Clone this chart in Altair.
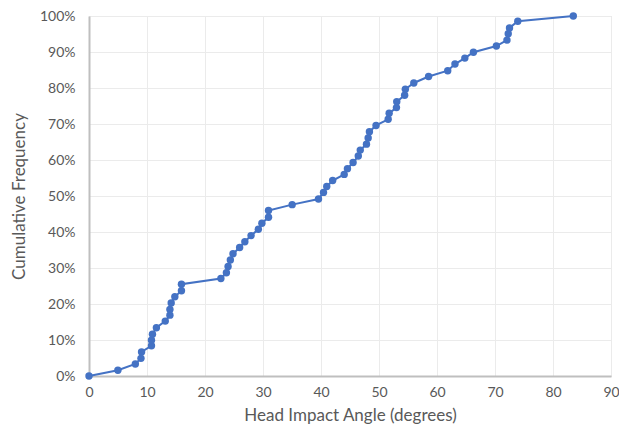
import altair as alt
import pandas as pd

angle = [0, 4.98, 7.99, 8.96, 9.06, 10.77, 10.77, 10.94, 11.62, 13.15,
         13.95, 13.95, 14.17, 14.8, 15.94, 15.94, 22.74, 23.69, 23.98, 24.37,
         24.83, 25.97, 26.87, 27.94, 29.2, 29.81, 30.95, 30.95, 35.03, 39.57,
         40.43, 40.99, 42.01, 44.0, 44.56, 45.53, 46.43, 46.77, 47.84, 48.13,
         48.35, 49.49, 51.58, 51.75, 53.01, 53.06, 54.42, 54.54, 56.0, 58.55,
         61.85, 63.1, 64.8, 66.28, 70.24, 72.06, 72.28, 72.5, 73.93, 83.5]
cum_pct = [0.0, 1.6, 3.35, 4.9, 6.7, 8.4, 9.95, 11.6, 13.4, 15.25,
           16.9, 18.5, 20.3, 22.0, 23.7, 25.5, 27.1, 28.7, 30.45, 32.2,
           33.95, 35.7, 37.3, 39.0, 40.75, 42.45, 44.1, 45.95, 47.6, 49.15,
           51.0, 52.65, 54.3, 56.0, 57.6, 59.3, 61.1, 62.75, 64.4, 66.1,
           67.85, 69.6, 71.3, 73.0, 74.55, 76.2, 78.0, 79.65, 81.4, 83.2,
           84.8, 86.65, 88.3, 89.95, 91.65, 93.3, 95.05, 96.7, 98.55, 100.0]

df = pd.DataFrame({"angle": angle, "freq": [v / 100 for v in cum_pct], "order": list(range(len(angle)))})

FONT = "Lato"
GRAY = "#595959"

base = alt.Chart(df).encode(
    x=alt.X("angle:Q", scale=alt.Scale(domain=[0, 90], nice=False, zero=True),
            axis=alt.Axis(title="Head Impact Angle (degrees)", values=list(range(0, 100, 10)),
                          format="d", labelFont=FONT, labelFontSize=14, labelColor=GRAY,
                          titleFont=FONT, titleFontSize=17, titleFontWeight="normal", titleColor=GRAY,
                          labelPadding=9, titlePadding=8, labelFlush=False,
                          domainColor="#bfbfbf", domainWidth=2, ticks=False,
                          gridColor="#ebebeb", gridWidth=1)),
    y=alt.Y("freq:Q", scale=alt.Scale(domain=[0, 1], nice=False),
            axis=alt.Axis(title="Cumulative Frequency", values=[i / 10 for i in range(11)],
                          format=".0%", labelFont=FONT, labelFontSize=14, labelColor=GRAY,
                          titleFont=FONT, titleFontSize=17, titleFontWeight="normal", titleColor=GRAY,
                          labelPadding=14, titlePadding=11, labelFlush=False,
                          domainColor="#bfbfbf", domainWidth=2, ticks=False,
                          gridColor="#ebebeb", gridWidth=1)),
    order="order:Q",
)

line = base.mark_line(color="#4472C4", strokeWidth=2)
pts = base.mark_circle(color="#4472C4", size=55, opacity=1)

chart = (line + pts).properties(
    width=522, height=360,
    autosize=alt.AutoSizeParams(type="none"),
    padding={"left": 81, "top": 8, "right": 8, "bottom": 52},
).configure_view(stroke=None).configure(background="white")

chart.save("out.html", embed_options={"renderer": "svg", "actions": False})
